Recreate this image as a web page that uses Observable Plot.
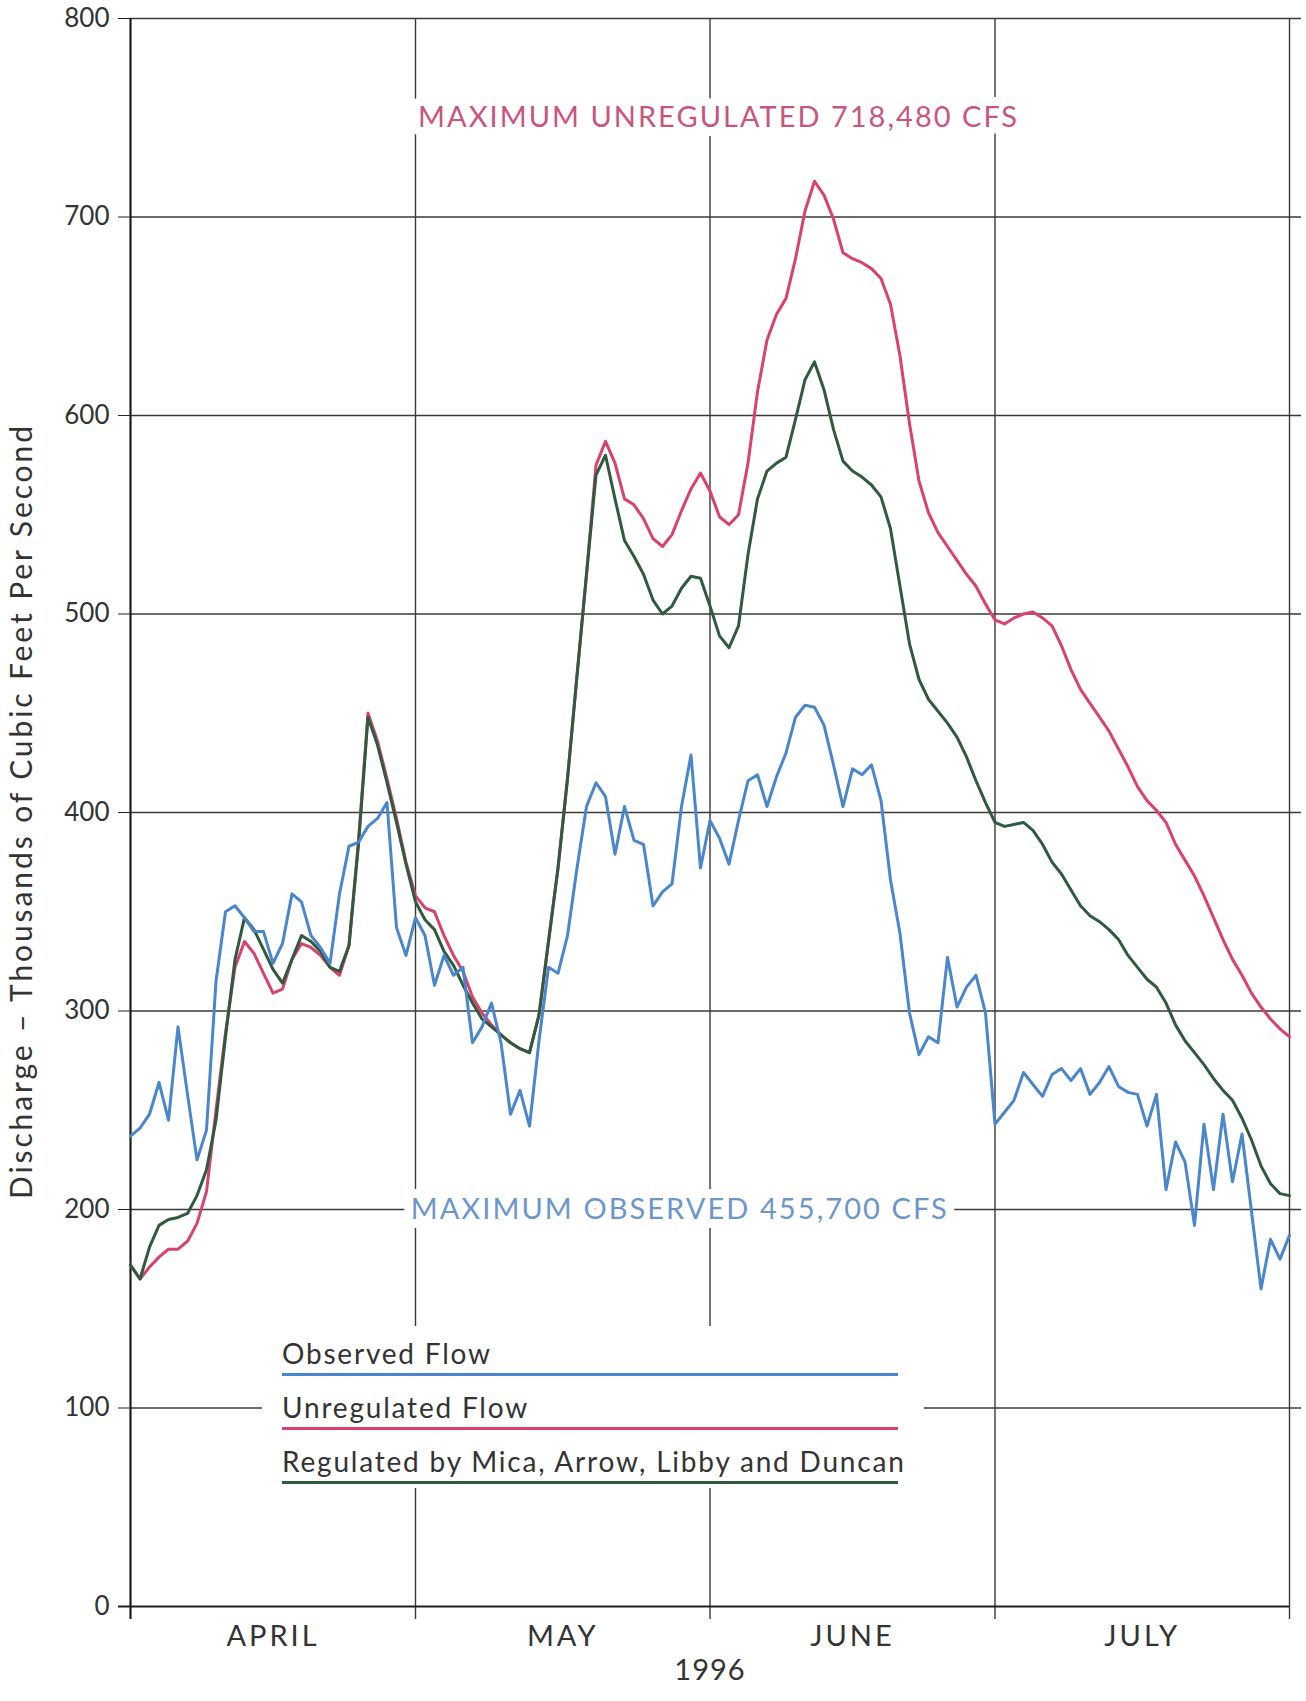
<!DOCTYPE html>
<html>
<head>
<meta charset="utf-8">
<script src="https://cdn.jsdelivr.net/npm/d3@7"></script>
<script src="https://cdn.jsdelivr.net/npm/@observablehq/plot@0.6"></script>
<style>
html, body { margin: 0; padding: 0; background: #fff; }
#wrap { position: relative; width: 1306px; height: 1701px; overflow: hidden; }
#legend { position: absolute; left: 262px; top: 1326px; width: 662px; height: 162px; background: #fff; font-family: Lato, sans-serif; }
#legend .row { position: absolute; left: 20px; width: 616px; height: 47px; }
#legend .row span { position: absolute; left: 0; top: 11px; line-height: 32px; font-size: 28px; letter-spacing: 1.8px; color: #333; white-space: nowrap; }
</style>
</head>
<body>
<div id="wrap"></div>
<script>
// ---------- data ----------
const startDate = "1996-04-01";
const monthNames = ["APRIL", "MAY", "JUNE", "JULY"];
const monthStarts = ["1996-04-01", "1996-05-01", "1996-06-01", "1996-07-01", "1996-08-01"];
const yTicks = [0, 100, 200, 300, 400, 500, 600, 700, 800];

// daily discharge, thousands of cfs, Apr 1 .. Aug 1 1996
const observed = [
  237,241,248,264,245,292,258,225,240,315,
  350,353,347,340,340,324,334,359,355,338,
  332,324,359,383,385,393,397,405,342,328,
  347,338,313,328,318,322,284,292,304,284,
  248,260,242,285,322,319,338,372,403,415,
  408,379,403,386,384,353,360,364,403,429,
  372,396,387,374,396,416,419,403,418,430,
  448,454,453,444,424,403,422,419,424,406,
  366,339,299,278,287,284,327,302,312,318,
  299,243,249,255,269,263,257,268,271,265,
  271,258,264,272,262,259,258,242,258,210,
  234,224,192,243,210,248,214,238,199,160,
  185,175,187
];
const unregulated = [
  172,165,171,176,180,180,184,193,209,250,
  289,322,335,329,319,309,311,326,334,332,
  328,322,318,333,386,450,436,417,397,375,
  358,352,350,338,328,320,307,299,293,288,
  284,281,279,298,335,372,417,469,520,575,
  587,576,558,555,548,538,534,540,552,563,
  571,562,549,545,550,576,612,638,651,659,
  679,703,718,711,699,682,679,677,674,669,
  656,630,596,567,551,541,534,527,520,514,
  505,497,495,498,500,501,498,494,484,472,
  462,455,448,441,432,423,413,406,401,395,
  384,376,368,358,347,336,326,318,309,302,
  296,291,287
];
const regulated = [
  172,165,181,192,195,196,198,207,220,245,
  287,326,347,341,331,321,314,326,338,335,
  330,322,320,333,384,448,434,415,395,374,
  355,346,341,330,323,313,304,296,292,288,
  284,281,279,298,335,372,417,469,520,570,
  580,558,537,529,520,507,500,504,513,519,
  518,504,489,483,494,530,558,572,576,579,
  598,618,627,613,593,577,572,569,565,559,
  543,514,485,467,457,451,445,438,428,416,
  405,395,393,394,395,391,384,375,369,361,
  353,348,345,341,336,328,322,316,312,304,
  293,285,279,273,266,260,255,246,235,222,
  213,208,207
];

const seriesNames = ["Observed Flow", "Unregulated Flow", "Regulated by Mica, Arrow, Libby and Duncan"];
const seriesColors = ["#4a86cc", "#d8426c", "#2f5a3e"];
const yLabel = "Discharge \u2013 Thousands of Cubic Feet Per Second";
const xLabel = "1996";
const noteTexts = ["MAXIMUM UNREGULATED 718,480 CFS", "MAXIMUM OBSERVED 455,700 CFS"];
const noteDays = [61.8, 57.7];
const noteValues = [750, 200];
const noteColors = ["#c9557f", "#6d96c9"];

// ---------- build ----------
const parse = d3.utcParse("%Y-%m-%d");
const t0 = parse(startDate);
const bounds = monthStarts.map(parse);
const mids = monthNames.map((m, i) => new Date((+bounds[i] + +bounds[i + 1]) / 2));
const dayDate = (i) => new Date(+t0 + i * 864e5);

// halo layer (white, interrupts the grid) and lettering layer
const noteHalo = (k) => Plot.text([noteTexts[k]], {
  x: () => dayDate(noteDays[k]), y: () => noteValues[k],
  fill: "white", stroke: "white", strokeWidth: 18, strokeLinejoin: "round", fontSize: 29
});
const noteMark = (k) => Plot.text([noteTexts[k]], {
  x: () => dayDate(noteDays[k]), y: () => noteValues[k],
  fill: noteColors[k], fontSize: 29
});

const seriesLine = (values, color) => Plot.lineY(values, {
  x: (d, i) => dayDate(i), y: d => d, stroke: color, strokeWidth: 3, strokeLinejoin: "round"
});

const chart = Plot.plot({
  width: 1306, height: 1701,
  marginLeft: 130, marginRight: 17, marginTop: 18, marginBottom: 95,
  x: { type: "utc", domain: [bounds[0], bounds[bounds.length - 1]], axis: null },
  y: { domain: [0, 800], axis: null },
  style: { fontFamily: "Lato, sans-serif", background: "#fff", color: "#333" },
  marks: [
    Plot.ruleY(yTicks.slice(1), { stroke: "#3a3a3a", strokeWidth: 1.4, insetRight: -12 }),
    Plot.ruleX(bounds.slice(1), { stroke: "#3a3a3a", strokeWidth: 1.4, insetBottom: -13 }),
    Plot.ruleX([bounds[0]], { stroke: "#1e1e1e", strokeWidth: 2.2, insetBottom: -13 }),
    Plot.ruleY([0], { stroke: "#1e1e1e", strokeWidth: 2.2, insetLeft: -12 }),
    Plot.axisY(yTicks, { tickSize: 12, tickPadding: 9, fontSize: 26, label: null, stroke: "#222", fill: "#333" }),
    Plot.text(monthNames, { x: (d, i) => mids[i], frameAnchor: "bottom", dy: 39, fontSize: 29, fill: "#333" }),
    Plot.text([xLabel], { frameAnchor: "bottom", dy: 73, fontSize: 29, fill: "#333" }),
    Plot.text([yLabel], { frameAnchor: "left", dx: -108, rotate: -90, textAnchor: "middle", fontSize: 30, fill: "#333" }),
    noteHalo(0), noteMark(0),
    noteHalo(1), noteMark(1),
    seriesLine(unregulated, seriesColors[1]),
    seriesLine(regulated, seriesColors[2]),
    seriesLine(observed, seriesColors[0])
  ]
});

// text widths of the plotter lettering
const fit = { [noteTexts[0]]: 599, [noteTexts[1]]: 536, [yLabel]: 773 };
chart.querySelectorAll("text").forEach(t => {
  const s = t.textContent;
  const target = t.querySelector("tspan") || t;
  if (fit[s]) { target.setAttribute("textLength", fit[s]); target.setAttribute("lengthAdjust", "spacing"); }
  if (monthNames.includes(s)) t.style.letterSpacing = "3px";
  if (s === xLabel) t.style.letterSpacing = "1px";
});

const wrap = document.getElementById("wrap");
wrap.appendChild(chart);

// legend (white box interrupting the grid)
const legend = document.createElement("div");
legend.id = "legend";
seriesNames.forEach((name, i) => {
  const row = document.createElement("div");
  row.className = "row";
  row.style.top = (i * 54) + "px";
  row.style.borderBottom = "3px solid " + seriesColors[i];
  const span = document.createElement("span");
  span.textContent = name;
  row.appendChild(span);
  legend.appendChild(row);
});
wrap.appendChild(legend);
</script>
</body>
</html>
